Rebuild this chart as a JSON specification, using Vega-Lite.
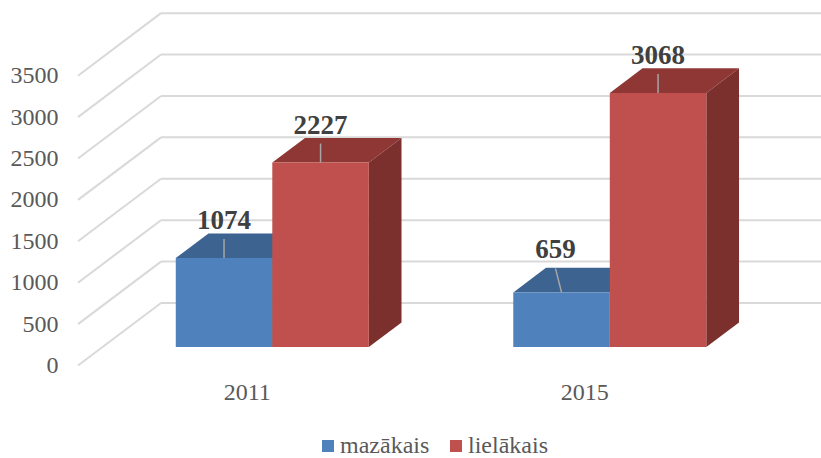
{
"$schema":"https://vega.github.io/schema/vega-lite/v6.json",
"width":743,"height":352.5,
"autosize":{"type":"none"},
"padding":{"left":78,"top":13,"right":0,"bottom":92.5},
"background":"white",
"view":{"stroke":null},
"config":{"axis":{"grid":false,"domain":false,"ticks":false,"labelFont":"Liberation Serif","labelFontSize":24,"labelColor":"#595959"}},
"data":{"values":[
{"year":"2011","series":"mazākais","value":1074},
{"year":"2011","series":"lielākais","value":2227},
{"year":"2015","series":"mazākais","value":659},
{"year":"2015","series":"lielākais","value":3068}
]},
"transform":[
{"calculate":"(datum.year==='2011'?0.5:1.5)+0.0757+(datum.series==='mazākais'?-0.286:0)","as":"xL"},
{"calculate":"datum.xL+0.286","as":"xR"},
{"calculate":"datum.value+223.5","as":"yF"},
{"calculate":"223.5","as":"yB"},
{"calculate":"datum.year+datum.series","as":"key"}
],
"layer":[
{"data":{"values":[{"v":0},{"v":500},{"v":1000},{"v":1500},{"v":2000},{"v":2500},{"v":3000},{"v":3500}]},
 "transform":[{"calculate":"datum.v+755","as":"vb"},{"calculate":"0","as":"x0"},{"calculate":"0.2459","as":"x1"}],
 "mark":{"type":"rule","color":"#D9D9D9","strokeWidth":2},
 "encoding":{
  "x":{"field":"x0","type":"quantitative","title":null,"scale":{"domain":[0,2.2015],"nice":false,"zero":false},
       "axis":{"values":[0.5,1.5],"labelExpr":"datum.value<1?'2011':'2015'","labelPadding":15}},
  "x2":{"field":"x1"},
  "y":{"field":"v","type":"quantitative","title":null,"scale":{"domain":[0,4257],"nice":false,"zero":false},
       "axis":{"values":[0,500,1000,1500,2000,2500,3000,3500],"format":"d","labelPadding":20}},
  "y2":{"field":"vb"}}},
{"data":{"values":[{"v":0},{"v":500},{"v":1000},{"v":1500},{"v":2000},{"v":2500},{"v":3000},{"v":3500}]},
 "transform":[{"calculate":"datum.v+755","as":"vb"},{"calculate":"0.2459","as":"x1"},{"calculate":"2.2015","as":"x2e"}],
 "mark":{"type":"rule","color":"#D9D9D9","strokeWidth":2},
 "encoding":{
  "x":{"field":"x1","type":"quantitative","title":null,"scale":{"domain":[0,2.2015],"nice":false,"zero":false}},
  "x2":{"field":"x2e"},
  "y":{"field":"vb","type":"quantitative","title":null,"scale":{"domain":[0,4257],"nice":false,"zero":false}}}},
{"transform":[{"calculate":"[0,1]","as":"t"},{"flatten":["t"]},
   {"calculate":"datum.yF+datum.t*297","as":"yT"},{"calculate":"datum.xL+datum.t*0.0969","as":"xa"},{"calculate":"datum.xR+datum.t*0.0969","as":"xb"}],
 "mark":{"type":"area","orient":"horizontal"},
 "encoding":{
  "y":{"field":"yT","type":"quantitative","title":null,"stack":null,"scale":{"domain":[0,4257],"nice":false,"zero":false}},
  "x":{"field":"xa","type":"quantitative","title":null,"stack":null,"scale":{"domain":[0,2.2015],"nice":false,"zero":false}},
  "x2":{"field":"xb"},
  "detail":{"field":"key"},
  "color":{"condition":{"test":"datum.series==='mazākais'","value":"#3D6391"},"value":"#8F3735"}}},
{"transform":[{"calculate":"[0,1]","as":"t"},{"flatten":["t"]},
   {"calculate":"datum.yF+datum.t*297","as":"yT"},{"calculate":"datum.yB+datum.t*297","as":"yU"},{"calculate":"datum.xR+datum.t*0.0969","as":"xb"}],
 "mark":{"type":"area","orient":"vertical"},
 "encoding":{
  "x":{"field":"xb","type":"quantitative","title":null,"stack":null,"scale":{"domain":[0,2.2015],"nice":false,"zero":false}},
  "y":{"field":"yT","type":"quantitative","title":null,"stack":null,"scale":{"domain":[0,4257],"nice":false,"zero":false}},
  "y2":{"field":"yU"},
  "detail":{"field":"key"},
  "color":{"condition":{"test":"datum.series==='mazākais'","value":"#2F4D71"},"value":"#7B302E"}}},
{"mark":{"type":"rect"},
 "encoding":{
  "x":{"field":"xL","type":"quantitative","title":null,"scale":{"domain":[0,2.2015],"nice":false,"zero":false}},
  "x2":{"field":"xR"},
  "y":{"field":"yF","type":"quantitative","title":null,"scale":{"domain":[0,4257],"nice":false,"zero":false}},
  "y2":{"field":"yB"},
  "color":{"field":"series","type":"nominal","scale":{"domain":["mazākais","lielākais"],"range":["#4F81BD","#C0504D"]},
   "legend":{"title":null,"orient":"none","legendX":238,"legendY":421,"direction":"horizontal","symbolType":"square","symbolSize":144,"symbolStrokeWidth":0,"labelFont":"Liberation Serif","labelFontSize":24,"labelColor":"#595959","columnPadding":14,"labelOffset":0,"labelLimit":200}}}},
{"transform":[{"calculate":"datum.value<700?24:19","as":"lift"},
   {"calculate":"datum.yF+datum.lift*12.08","as":"yTop"},
   {"calculate":"(datum.xL+datum.xR)/2","as":"xMid"},
   {"calculate":"datum.xMid-(datum.value<700?0.018:0)","as":"xTop"}],
 "layer":[
  {"mark":{"type":"rule","color":"#A6A6A6","strokeWidth":1.5},
   "encoding":{
    "x":{"field":"xMid","type":"quantitative","title":null,"scale":{"domain":[0,2.2015],"nice":false,"zero":false}},
    "x2":{"field":"xTop"},
    "y":{"field":"yF","type":"quantitative","title":null,"scale":{"domain":[0,4257],"nice":false,"zero":false}},
    "y2":{"field":"yTop"}}},
  {"mark":{"type":"text","font":"Liberation Serif","fontWeight":"bold","fontSize":27,"color":"#404040","baseline":"alphabetic","dy":-10},
   "encoding":{
    "x":{"field":"xTop","type":"quantitative","title":null,"scale":{"domain":[0,2.2015],"nice":false,"zero":false}},
    "y":{"field":"yTop","type":"quantitative","title":null,"scale":{"domain":[0,4257],"nice":false,"zero":false}},
    "text":{"field":"value","type":"quantitative"}}}
 ]}
]
}
